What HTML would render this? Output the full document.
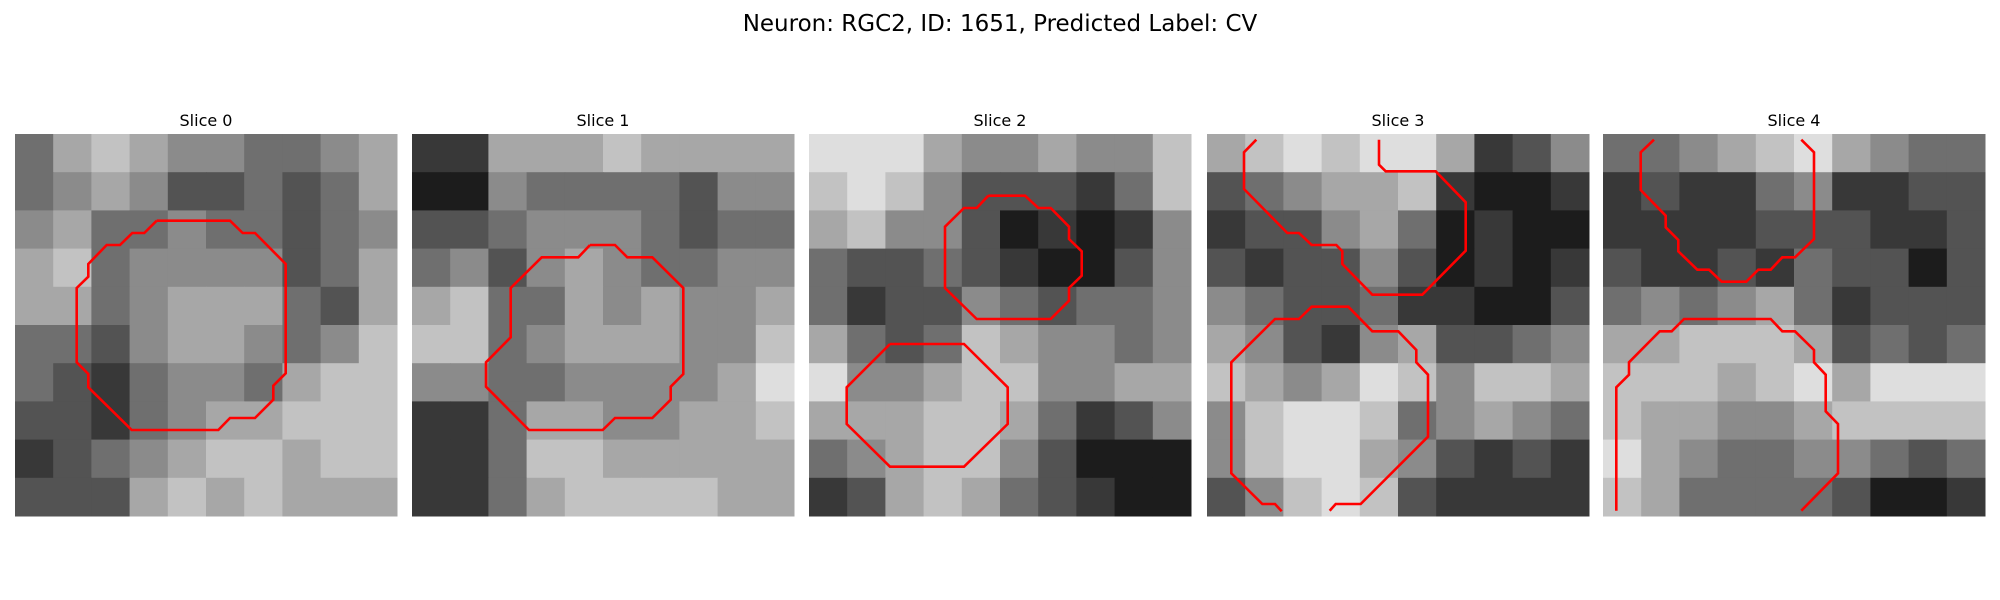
<!DOCTYPE html>
<html><head><meta charset="utf-8"><style>
html,body{margin:0;padding:0;background:#fff;width:2000px;height:600px;overflow:hidden}
svg{display:block}
</style></head><body>
<svg id="fig" width="2000" height="600" xmlns="http://www.w3.org/2000/svg">
<rect width="2000" height="600" fill="#fff"/>
<text x="1000" y="31" text-anchor="middle" font-family="DejaVu Sans, Liberation Sans, sans-serif" font-size="23" fill="#000">Neuron: RGC2, ID: 1651, Predicted Label: CV</text>
</svg>
<script>
const sliceTitles = ["Slice 0","Slice 1","Slice 2","Slice 3","Slice 4"];
// coarse 10x10 intensity grids, 0 = black, 9 = white
const slice0 = [
[4,6,7,6,5,5,4,4,5,6],[4,5,6,5,3,3,4,3,4,6],[5,6,4,4,5,4,4,3,4,5],[6,7,4,5,5,5,5,3,4,6],[6,6,4,5,6,6,6,4,3,6],
[4,4,3,5,6,6,5,4,5,7],[4,3,2,4,5,5,4,6,7,7],[3,3,2,4,5,6,6,7,7,7],[2,3,4,5,6,7,7,6,7,7],[3,3,3,6,7,6,7,6,6,6]];
const slice1 = [
[2,2,6,6,6,7,6,6,6,6],[1,1,5,4,4,4,4,3,5,5],[3,3,4,5,5,5,4,3,4,4],[4,5,3,5,6,5,4,4,5,5],[6,7,4,4,6,5,6,5,5,6],
[7,7,4,5,6,6,6,5,5,7],[5,5,4,4,5,5,5,5,6,8],[2,2,4,6,6,5,5,6,6,7],[2,2,4,7,7,6,6,6,6,6],[2,2,4,6,7,7,7,7,6,6]];
const slice2 = [
[8,8,8,6,5,5,6,5,5,7],[7,8,7,5,3,3,3,2,4,7],[6,7,5,5,3,1,2,1,2,5],[4,3,3,4,3,2,1,1,3,5],[4,2,3,3,5,4,3,4,4,5],
[6,4,3,4,7,6,5,5,4,5],[8,5,5,6,7,7,5,5,6,6],[6,6,6,7,7,6,4,2,3,5],[4,5,6,7,7,5,3,1,1,1],[2,3,6,7,6,4,3,2,1,1]];
const slice3 = [
[6,7,8,7,8,8,6,2,3,5],[3,4,5,6,6,7,2,1,1,2],[2,3,3,5,6,4,1,2,1,1],[3,2,3,3,5,3,1,2,1,2],[5,4,3,3,4,2,2,1,1,3],
[6,5,3,2,5,6,3,3,4,5],[7,6,5,6,8,7,5,7,7,6],[5,7,8,8,7,4,5,6,5,4],[5,7,8,8,6,5,3,2,3,2],[3,5,7,8,7,3,2,2,2,2]];
const slice4 = [
[4,4,5,6,7,8,6,5,4,4],[2,3,2,2,4,5,2,2,3,3],[2,2,2,2,3,3,3,2,2,3],[3,2,2,3,2,4,3,3,1,3],[4,5,4,5,6,4,2,3,3,3],
[6,6,7,7,7,6,3,4,3,4],[7,7,7,6,7,8,6,8,8,8],[7,6,6,5,5,6,7,7,7,7],[8,6,5,4,4,5,5,4,3,4],[7,6,4,4,4,4,3,1,1,2]];
// contours in image units (0..1146 across each slice)
const contours0 = [[[425,260],[645,260],[683,297],[720,297],[812,390],[812,718],[775,755],[775,797],[720,852],[645,852],[610,888],[350,888],[220,760],[220,720],[185,685],[185,462],[220,428],[220,390],[275,333],[315,333],[352,297],[388,297],[425,260]]];
const contours1 = [[[534,333],[609,333],[646,370],[721,370],[814,462],[814,720],[776,758],[776,797],[721,852],[609,852],[572,888],[351,888],[222,758],[222,685],[296,610],[296,462],[389,370],[499,370],[534,333]]];
const contours2 = [
[[538,185],[648,185],[688,222],[725,222],[780,278],[780,315],[818,352],[818,425],[780,462],[780,500],[725,555],[503,555],[408,462],[408,278],[465,222],[503,222],[538,185]],
[[243,630],[465,630],[596,760],[596,870],[465,998],[243,998],[113,870],[113,760],[243,630]]];
const contours3 = [
[[148,17],[111,55],[111,165],[241,297],[276,297],[314,333],[388,333],[406,352],[406,390],[496,482],[646,482],[776,350],[776,205],[686,112],[536,112],[516,92],[516,17]],
[[224,1132],[204,1110],[166,1110],[73,1018],[73,685],[204,555],[276,555],[314,518],[424,518],[496,592],[574,592],[628,648],[628,685],[663,722],[663,908],[461,1110],[386,1110],[368,1130]]];
const contours4 = [
[[153,17],[113,55],[113,168],[188,245],[188,280],[226,318],[226,352],[283,407],[318,407],[356,443],[430,443],[466,407],[503,407],[538,370],[576,370],[633,315],[633,55],[595,17]],
[[40,1130],[40,760],[78,722],[78,685],[170,592],[206,592],[243,555],[503,555],[538,592],[576,592],[633,648],[633,685],[668,722],[668,832],[705,870],[705,1018],[595,1130]]];

const grids = [slice0,slice1,slice2,slice3,slice4];
const contourSets = [contours0,contours1,contours2,contours3,contours4];
const panelX = [15,412,809,1207,1603];
const panelY = 134, panelSize = 382, imgUnits = 1146;
const NS = "http://www.w3.org/2000/svg";
const svg = document.getElementById('fig');
function sx(p,v){return panelX[p] + v/imgUnits*panelSize;}
function sy(v){return panelY + v/imgUnits*panelSize;}
function gray(v){const g=Math.round(v/9*250);return `rgb(${g},${g},${g})`;}

grids.forEach((grid,p)=>{
  const g = document.createElementNS(NS,'g');
  
  
  svg.appendChild(g);
  const n = grid.length, cs = panelSize/n;
  grid.forEach((row,r)=>row.forEach((v,c)=>{
    const rc = document.createElementNS(NS,'rect');
    
    
    rc.setAttribute('x', panelX[p]+c*cs); rc.setAttribute('y', panelY+r*cs);
    rc.setAttribute('width', cs+0.5); rc.setAttribute('height', cs+0.5);
    rc.setAttribute('fill', gray(v));
    g.appendChild(rc);
  }));
  contourSets[p].forEach(pts=>{
    const pl = document.createElementNS(NS,'polyline');
    
    
    pl.setAttribute('points', pts.map(q=>sx(p,q[0]).toFixed(1)+','+sy(q[1]).toFixed(1)).join(' '));
    pl.setAttribute('fill','none'); pl.setAttribute('stroke','#ff0000'); pl.setAttribute('stroke-width','2.6');
    g.appendChild(pl);
  });
  const t = document.createElementNS(NS,'text');
  
  
  t.setAttribute('x', panelX[p]+panelSize/2); t.setAttribute('y', 126);
  t.setAttribute('text-anchor','middle');
  t.setAttribute('font-family','DejaVu Sans, Liberation Sans, sans-serif');
  t.setAttribute('font-size','16');
  t.textContent = sliceTitles[p];
  svg.appendChild(t);
});
</script>
</body></html>
